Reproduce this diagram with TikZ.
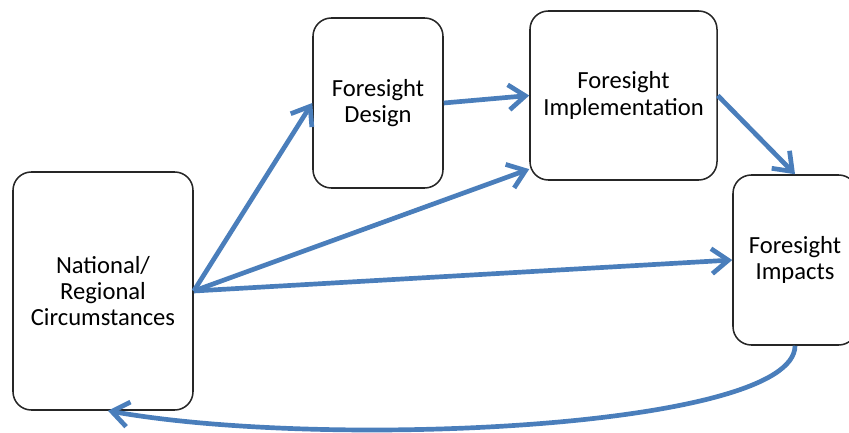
\documentclass[tikz,border=0pt]{standalone}
\usepackage{fontspec}
\setmainfont{Carlito}
\usetikzlibrary{arrows.meta,positioning}
\definecolor{flowblue}{RGB}{74,126,187}
\tikzset{
    block/.style={rectangle, rounded corners=0.55cm, draw=black!85, line width=1.3pt,
        align=center, font=\fontsize{21}{22.5}\selectfont},
    flow/.style={draw=flowblue, line width=4pt, -{Straight Barb[length=5mm, width=7.5mm]}}
}
\begin{document}
\begin{tikzpicture}[x=0.03cm, y=-0.03cm]
    \useasboundingbox (0,0) rectangle (849,433);
    \clip (0,0) rectangle (849,433);
    % Boxes
    \node[block, minimum width=5.4cm, minimum height=7.14cm] (nat) at (103,291) {National/\\Regional\\Circumstances};
    \node[block, minimum width=3.9cm, minimum height=5.1cm] (des) at (378,103) {Foresight\\Design};
    \node[block, minimum width=5.61cm, minimum height=5.07cm] (imp) at (623.5,95.5) {Foresight\\Implementation};
    \node[block, minimum width=3.72cm, minimum height=5.1cm] (res) at (795,260) {Foresight\\Impacts};

    % arrows
    \draw[flow] (nat.east) -- (des.west);
    \draw[flow] (nat.east) -- (imp.218);
    \draw[flow] (nat.east) -- (res.west);
    \draw[flow] (des.east) -- (imp.west);
    \draw[flow] (imp.east) -- (res.north);
    \draw[flow] (res.south) .. controls (795,428) and (330,450) .. ([xshift=0.15cm]nat.south);
\end{tikzpicture}
\end{document}
